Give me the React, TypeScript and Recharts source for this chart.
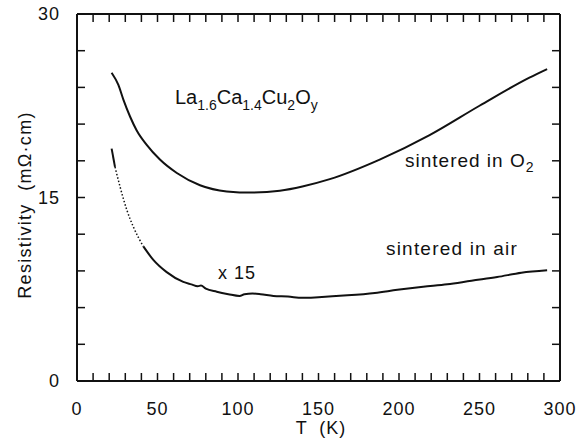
import { LineChart, Line, XAxis, YAxis } from 'recharts'

// temperature (K) and resistivity (mΩ·cm)
const tempO2 = [21.5, 25.7, 28.8, 33, 37, 43.3, 51.5, 62, 76.4, 93, 109, 126, 140, 157, 188, 219, 250, 281, 292]
const rhoO2 = [25.2, 24.2, 23.0, 21.6, 20.5, 19.3, 18.1, 17.0, 16.0, 15.5, 15.4, 15.55, 15.9, 16.5, 18.1, 20.1, 22.5, 24.8, 25.5]

// sintered in air (x15): short solid start, dotted steep drop, then solid
const tempAirStart = [21.5, 23.6]
const rhoAirStart = [19.0, 17.5]
const tempAirDrop = [23.6, 26.7, 30.9, 35, 41.2]
const rhoAirDrop = [17.5, 15.9, 14.0, 12.6, 11.0]
const tempAir = [41.2, 47.4, 55.7, 66, 71, 75, 77, 80, 86.8, 94, 101, 104, 109, 114, 122, 131, 140, 150, 168, 185, 199, 215, 230, 245, 261, 276, 292]
const rhoAir = [11.0, 9.9, 8.9, 8.1, 7.9, 7.75, 7.8, 7.55, 7.3, 7.1, 6.95, 7.1, 7.15, 7.1, 6.95, 6.9, 6.8, 6.85, 7.0, 7.2, 7.45, 7.7, 7.9, 8.2, 8.5, 8.85, 9.05]

const xTicks = [0, 10, 20, 30, 40, 50, 60, 70, 80, 90, 100, 110, 120, 130, 140, 150, 160, 170, 180, 190, 200, 210, 220, 230, 240, 250, 260, 270, 280, 290, 300]
const yTicks = [0, 3, 6, 9, 12, 15, 18, 21, 24, 27, 30]
const xLabels = [0, 50, 100, 150, 200, 250, 300]
const yLabels = [0, 15, 30]

const zip = (t: number[], r: number[]) => t.map((T, i) => ({ T, rho: r[i] }))

const font = '"Liberation Sans", Arial, sans-serif'
const tickFont = { fill: '#111', fontSize: 18, fontFamily: font, letterSpacing: 1 }
const axisStyle = { stroke: '#111', strokeWidth: 2 }
const tickStyle = { stroke: '#111', strokeWidth: 1.5 }
const blank = () => ''

export default function App() {
  return (
    <div style={{ position: 'absolute', left: 0, top: 0, background: '#fff' }}>
      <LineChart width={579} height={444} margin={{ top: 4, right: 10, left: 0, bottom: 0 }}>
        <XAxis
          type="number"
          dataKey="T"
          domain={[0, 300]}
          ticks={xTicks}
          interval={0}
          height={63}
          tickSize={-8}
          tickMargin={29}
          axisLine={axisStyle}
          tickLine={tickStyle}
          tick={tickFont}
          tickFormatter={(v: number) => (xLabels.includes(v) ? String(v) : '')}
        />
        <XAxis
          xAxisId="top"
          orientation="top"
          type="number"
          dataKey="T"
          domain={[0, 300]}
          ticks={xTicks}
          interval={0}
          height={10}
          tickSize={-8}
          axisLine={axisStyle}
          tickLine={tickStyle}
          tick={tickFont}
          tickFormatter={blank}
        />
        <YAxis
          type="number"
          domain={[0, 30]}
          ticks={yTicks}
          interval={0}
          width={77}
          tickSize={-8}
          tickMargin={25}
          axisLine={axisStyle}
          tickLine={tickStyle}
          tick={tickFont}
          tickFormatter={(v: number) => (yLabels.includes(v) ? String(v) : '')}
        />
        <YAxis
          yAxisId="right"
          orientation="right"
          type="number"
          domain={[0, 30]}
          ticks={yTicks}
          interval={0}
          width={9}
          tickSize={-8}
          axisLine={axisStyle}
          tickLine={tickStyle}
          tick={tickFont}
          tickFormatter={blank}
        />
        <Line data={zip(tempO2, rhoO2)} xAxisId="top" yAxisId="right" dataKey="rho" type="monotone" stroke="#111" strokeWidth={2} dot={false} isAnimationActive={false} />
        <Line data={zip(tempAirStart, rhoAirStart)} dataKey="rho" type="monotone" stroke="#111" strokeWidth={2} dot={false} isAnimationActive={false} />
        <Line data={zip(tempAirDrop, rhoAirDrop)} dataKey="rho" type="monotone" stroke="#111" strokeWidth={1.5} strokeDasharray="1.5 2" dot={false} isAnimationActive={false} />
        <Line data={zip(tempAir, rhoAir)} dataKey="rho" type="monotone" stroke="#111" strokeWidth={2} dot={false} isAnimationActive={false} />

        <text x={25} y={205} transform="rotate(-90 25 205)" textAnchor="middle" dominantBaseline="central" fontFamily={font} fontSize={18} letterSpacing={1.3} fill="#111" style={{ whiteSpace: 'pre' }}>
          Resistivity  (mΩ·cm)
        </text>
        <text x={321} y={434} textAnchor="middle" fontFamily={font} fontSize={18} letterSpacing={1} fill="#111" style={{ whiteSpace: 'pre' }}>
          T  (K)
        </text>
        <text x={175} y={104} fontFamily={font} fontSize={20} fill="#111">
          La<tspan fontSize={14} dy={6}>1.6</tspan>
          <tspan dy={-6}>Ca</tspan>
          <tspan fontSize={14} dy={6}>1.4</tspan>
          <tspan dy={-6}>Cu</tspan>
          <tspan fontSize={14} dy={6}>2</tspan>
          <tspan dy={-6}>O</tspan>
          <tspan fontSize={14} dy={6}>y</tspan>
        </text>
        <text x={405} y={167} fontFamily={font} fontSize={19} letterSpacing={1} fill="#111">
          sintered in O<tspan fontSize={14} dy={5}>2</tspan>
        </text>
        <text x={386} y={255} fontFamily={font} fontSize={19} letterSpacing={1.2} fill="#111">
          sintered in air
        </text>
        <text x={218} y={279} fontFamily={font} fontSize={18} letterSpacing={1} fill="#111" style={{ whiteSpace: 'pre' }}>
          x 15
        </text>
      </LineChart>
    </div>
  )
}
